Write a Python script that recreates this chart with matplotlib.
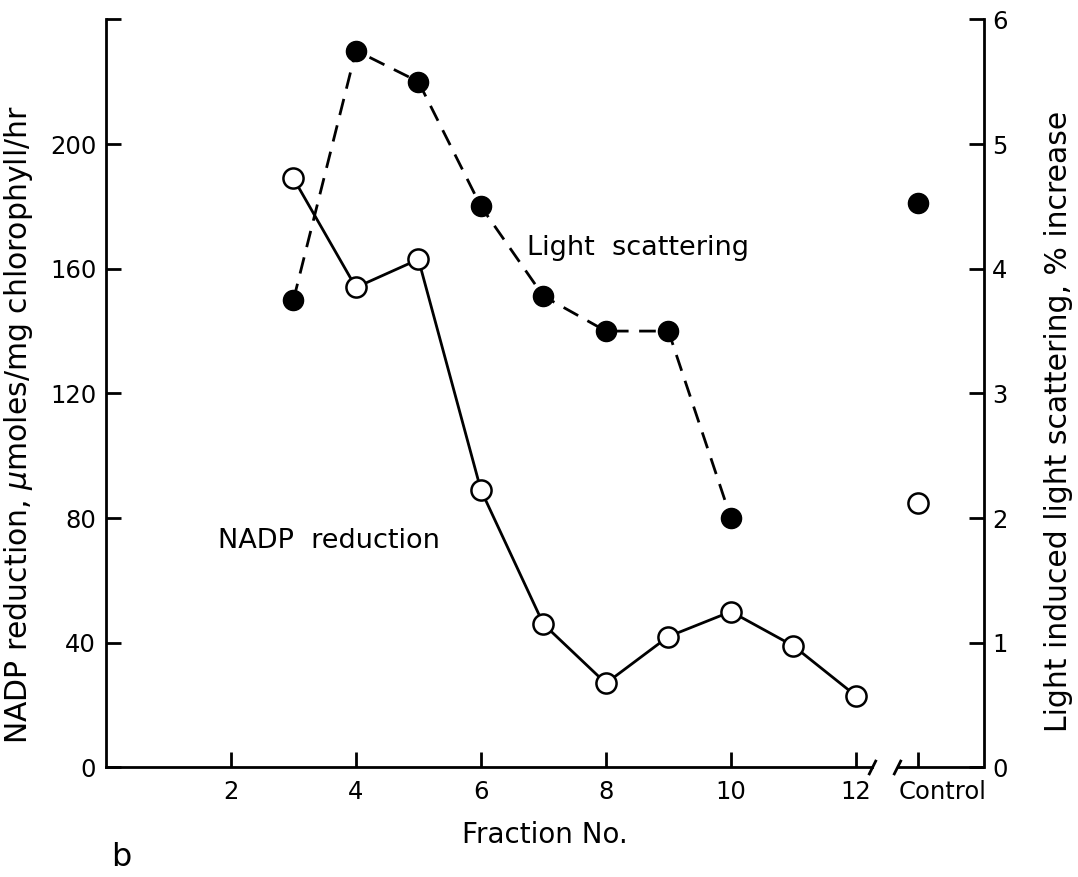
import matplotlib
matplotlib.use('Agg')
import matplotlib.pyplot as plt
from matplotlib.transforms import ScaledTranslation
from matplotlib.lines import Line2D

# ---- data ----
fractions = [3, 4, 5, 6, 7, 8, 9, 10, 11, 12]
nadp = [189, 154, 163, 89, 46, 27, 42, 50, 39, 23]
light_fractions = [3, 4, 5, 6, 7, 8, 9, 10]
light = [3.75, 5.75, 5.5, 4.5, 3.78, 3.5, 3.5, 2.0]
control_x = [13]
control_nadp = [85]
control_light = [4.53]

xticks = [2, 4, 6, 8, 10, 12, 13]
xticklabels = ['2', '4', '6', '8', '10', '12', 'Control']
left_ticks = [0, 40, 80, 120, 160, 200, 240]
left_labels = ['0', '40', '80', '120', '160', '200', '']
right_ticks = [0, 1, 2, 3, 4, 5, 6]
right_labels = ['0', '1', '2', '3', '4', '5', '6']

plt.rcParams['font.family'] = ['DejaVu Sans']

fig = plt.figure(figsize=(10.78, 8.77), dpi=100)
ax = fig.add_axes([0.0983, 0.1249, 0.8145, 0.853])
ax2 = ax.twinx()

XMAX = 14.05
ax.set_xlim(0, XMAX)
ax.set_ylim(0, 240)
ax2.set_ylim(0, 6)

lw = 2.0
ms = 14.5

# NADP reduction (left axis)
ax.plot(fractions, nadp, '-', color='black', lw=lw, zorder=2)
ax.plot(fractions, nadp, 'o', ms=ms, mfc='white', mec='black', mew=1.8, zorder=3, clip_on=False)
ax.plot(control_x, control_nadp, 'o', ms=ms, mfc='white', mec='black', mew=1.8, zorder=3)

# Light scattering (right axis)
ax2.plot(light_fractions, light, '--', color='black', lw=lw, dashes=(6.0, 3.8), zorder=2)
ax2.plot(light_fractions, light, 'o', ms=ms, color='black', zorder=3)
ax2.plot(control_x, control_light, 'o', ms=ms, color='black', zorder=3)

# spines
for a in (ax, ax2):
    a.spines['top'].set_visible(False)
    for s in a.spines.values():
        s.set_linewidth(lw)
ax.spines['right'].set_visible(False)
ax2.spines['left'].set_visible(False)
ax2.spines['bottom'].set_visible(False)

# broken x axis
ax.spines['bottom'].set_bounds(0, 12.25)
ax.add_line(Line2D([12.65, XMAX], [0, 0], color='black', lw=lw, clip_on=False,
                   solid_capstyle='butt'))
ax.plot([12.25, 12.65], [0, 0], ls='none', marker=[(-0.5, -1), (0.5, 1)],
        ms=11, mew=lw, mec='black', mfc='none', clip_on=False, zorder=5)

# ticks
ax.set_xticks(xticks)
ax.set_xticklabels(xticklabels)
ax.set_yticks(left_ticks)
ax.set_yticklabels(left_labels)
ax2.set_yticks(right_ticks)
ax2.set_yticklabels(right_labels)

ax.tick_params(axis='both', direction='in', length=11, width=lw, labelsize=17.5)
ax.tick_params(axis='x', pad=9)
ax.tick_params(axis='y', pad=7)
ax2.tick_params(axis='y', direction='in', length=11, width=lw, labelsize=17.5, pad=6)

# shift "Control" label right
for lab in ax.get_xticklabels():
    if lab.get_text() == 'Control':
        lab.set_transform(lab.get_transform() + ScaledTranslation(0.24, 0, fig.dpi_scale_trans))

# labels
ax.set_xlabel('Fraction No.', fontsize=20)
ax.xaxis.set_label_coords(0.5, -0.071)
ax.set_ylabel(r'NADP reduction, $\mu$moles/mg chlorophyll/hr', fontsize=21.5)
ax.yaxis.set_label_coords(-0.081, 0.458)
ax2.set_ylabel('Light induced light scattering, % increase', fontsize=21.5, rotation=90)
ax2.yaxis.set_label_coords(1.068, 0.462)

# annotations
ax.text(8.51, 166.8, 'Light  scattering', fontsize=19.5, ha='center', va='center')
ax.text(3.56, 72.8, 'NADP  reduction', fontsize=19.5, ha='center', va='center')
fig.text(121 / 1078, 1 - 858 / 877, 'b', fontsize=23, ha='center', va='center')

fig.savefig('out.png', dpi=100)
